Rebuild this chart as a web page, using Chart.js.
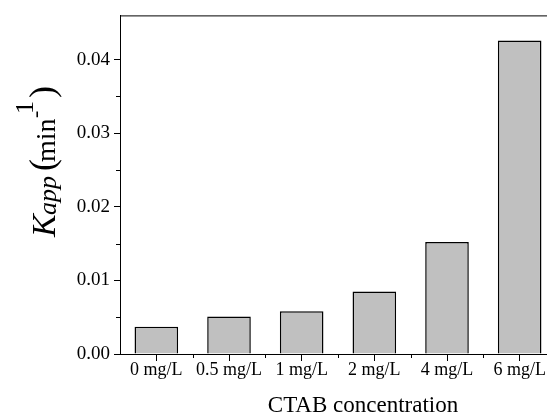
<!DOCTYPE html>
<html>
<head>
<meta charset="utf-8">
<script src="https://cdn.jsdelivr.net/npm/chart.js@4/dist/chart.umd.min.js"></script>
<style>
  html, body { margin: 0; padding: 0; background: #fff; overflow: hidden; }
  #wrap { width: 560px; height: 414px; }
</style>
</head>
<body>
<div id="wrap"><canvas id="kChart" width="560" height="414"></canvas></div>
<script>
// data
const categories = ['0 mg/L', '0.5 mg/L', '1 mg/L', '2 mg/L', '4 mg/L', '6 mg/L'];
const kappValues = [0.0037, 0.0051, 0.0058, 0.0085, 0.0152, 0.0426];
const yMax = 0.046;
const yStep = 0.005;
const xTitle = 'CTAB concentration';

const serif = '"Liberation Serif", "Times New Roman", serif';

function isMajor(v) {
    return Math.abs(Math.round(v * 100) - v * 100) < 1e-6;
}

// minor ticks, frame and axis titles
const framePlugin = {
    id: 'frame',
    afterDraw(chart) {
        const ctx = chart.ctx;
        const area = chart.chartArea;
        const x = chart.scales.x;
        const y = chart.scales.y;
        ctx.save();
        ctx.strokeStyle = '#000';
        ctx.lineWidth = 1;

        // top and right border
        ctx.beginPath();
        ctx.moveTo(area.left, area.top + 0.5);
        ctx.lineTo(area.right, area.top + 0.5);
        ctx.moveTo(area.right - 0.5, area.top);
        ctx.lineTo(area.right - 0.5, area.bottom);
        ctx.stroke();

        // y minor ticks
        ctx.beginPath();
        y.ticks.forEach(t => {
            if (!isMajor(t.value)) {
                const py = Math.round(y.getPixelForValue(t.value)) + 0.5;
                ctx.moveTo(area.left - 4, py);
                ctx.lineTo(area.left, py);
            }
        });
        // x minor ticks at category boundaries
        const half = (x.getPixelForValue(1) - x.getPixelForValue(0)) / 2;
        for (let i = 0; i < categories.length; i++) {
            const px = Math.round(x.getPixelForValue(i) + half) + 0.5;
            ctx.moveTo(px, area.bottom);
            ctx.lineTo(px, area.bottom + 4);
        }
        ctx.stroke();

        ctx.fillStyle = '#000';
        ctx.textBaseline = 'alphabetic';

        // x axis title
        ctx.textAlign = 'center';
        ctx.font = '23px ' + serif;
        ctx.fillText(xTitle, 363, 412);

        // y axis title: K_app (min^-1)
        ctx.textAlign = 'left';
        ctx.translate(55, 237);
        ctx.rotate(-Math.PI / 2);
        ctx.font = 'italic 34px ' + serif;
        ctx.fillText('K', 0, 0);
        ctx.font = 'italic 26px ' + serif;
        ctx.fillText('app', 22, 1);
        ctx.font = '36px ' + serif;
        ctx.fillText('(', 66, -1);
        ctx.font = '28px ' + serif;
        ctx.fillText('min', 75, 0);
        ctx.font = '22px ' + serif;
        ctx.fillText('-', 119, -13);
        ctx.font = '26px ' + serif;
        ctx.fillText('1', 123, -22);
        ctx.font = '36px ' + serif;
        ctx.fillText(')', 139, -1);
        ctx.restore();
    }
};

new Chart(document.getElementById('kChart').getContext('2d'), {
    type: 'bar',
    data: {
        labels: categories,
        datasets: [{
            data: kappValues,
            backgroundColor: '#c0c0c0',
            borderColor: '#000',
            borderWidth: 1.5,
            categoryPercentage: 1,
            barPercentage: 0.6
        }]
    },
    options: {
        responsive: false,
        animation: false,
        layout: { padding: { left: 0, top: 14, right: 4, bottom: 0 } },
        plugins: { legend: { display: false }, tooltip: { enabled: false } },
        scales: {
            x: {
                grid: { display: true, drawOnChartArea: false, offset: false, tickLength: 7, color: '#000' },
                border: { color: '#000', width: 1 },
                ticks: { color: '#000', padding: -2, maxRotation: 0, font: { family: serif, size: 18 } },
                afterFit: s => { s.height = 60; }
            },
            y: {
                min: 0,
                max: yMax,
                grid: {
                    drawOnChartArea: false,
                    tickLength: 6,
                    tickColor: c => (c.tick && isMajor(c.tick.value)) ? '#000' : 'rgba(0,0,0,0)'
                },
                border: { color: '#000', width: 1 },
                afterBuildTicks: s => {
                    s.ticks = s.ticks.filter(t => Math.abs(Math.round(t.value / yStep) * yStep - t.value) < 1e-9);
                },
                ticks: {
                    stepSize: yStep,
                    color: '#000',
                    padding: 4,
                    font: { family: serif, size: 19 },
                    callback: v => isMajor(v) ? v.toFixed(2) : ''
                },
                afterFit: s => { s.width = 120; }
            }
        }
    },
    plugins: [framePlugin]
});
</script>
</body>
</html>
